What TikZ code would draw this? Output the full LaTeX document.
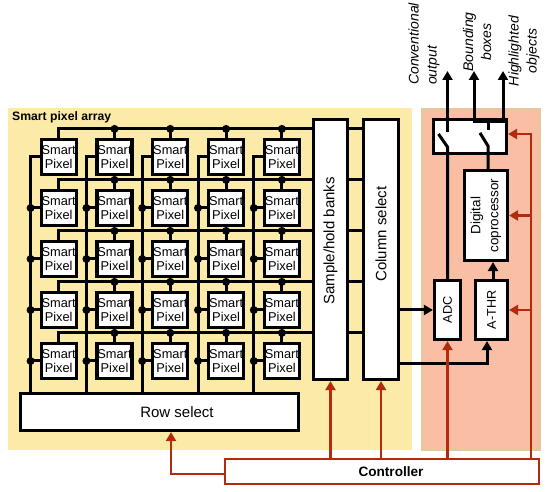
\documentclass[tikz,border=0pt]{standalone}
\usepackage{fontspec}
\setmainfont{Liberation Sans}
\usetikzlibrary{arrows.meta, positioning}

\definecolor{arrayyellow}{RGB}{252,234,168}
\definecolor{procpink}{RGB}{249,190,164}
\definecolor{procedge}{RGB}{234,198,158}
\definecolor{ctrlred}{RGB}{180,42,12}

\tikzset{
  pixel/.style={draw, line width=3.2pt, fill=white, minimum width=35pt, minimum height=35pt,
    inner sep=0pt, align=center, font=\fontsize{12.8}{14}\selectfont},
  block/.style={draw, line width=3.2pt, fill=white, inner sep=0pt},
  wire/.style={line width=3pt},
  arr/.style={-{Triangle[width=10pt,length=9pt]}},
  twoarr/.style={{Triangle[width=10pt,length=9pt]}-{Triangle[width=10pt,length=9pt]}},
  ctrl/.style={draw=ctrlred, line width=2.4pt, -{Triangle[width=10pt,length=9pt]}},
  bigtext/.style={inner sep=0pt, font=\fontsize{15}{18}\selectfont},
  smalltext/.style={inner sep=0pt, font=\fontsize{12.6}{15}\selectfont},
  dctext/.style={inner sep=0pt, align=center, font=\fontsize{13.5}{18}\selectfont},
  outtext/.style={inner sep=0pt, font=\itshape\fontsize{14}{18}\selectfont},
  boldtext/.style={inner sep=0pt, font=\bfseries\fontsize{12.2}{14}\selectfont}
}

\begin{document}
\begin{tikzpicture}[x=1pt, y=-1pt]
    \useasboundingbox (0,0) rectangle (550,492);

    % Background panels
    \fill[arrayyellow] (8,108) rectangle (412,450);
    \filldraw[fill=procpink, draw=procedge, line width=3pt] (422.5,109.5) rectangle (539.5,449.5);
    \node[boldtext, anchor=base west] (array-lbl) at (12,121) {Smart pixel array};

    % Smart pixel grid
    \foreach \r in {1,...,5}
      \foreach \c in {1,...,5}
        \node[pixel] (px-\r-\c) at ({58.7+55.8*(\c-1)}, {157+51*(\r-1)}) {Smart\\Pixel};

    % Readout blocks
    \node[block, minimum width=34pt, minimum height=260pt] (sh) at (330.5,249.5) {};
    \node[bigtext, rotate=90] (sh-lbl) at (330.5,241) {Sample/hold banks};
    \node[block, minimum width=35pt, minimum height=260pt] (cs) at (381,249.5) {};
    \node[bigtext, rotate=90] (cs-lbl) at (381,234) {Column select};
    \node[block, minimum width=278pt, minimum height=37pt] (rs) at (159.5,412) {};
    \node[bigtext] (rs-lbl) at (177,412) {Row select};

    % Processing blocks
    \node[block, minimum width=73pt, minimum height=34pt] (sw) at (470,136.5) {};
    \node[block, minimum width=26pt, minimum height=59pt] (adc) at (447.5,310) {};
    \node[smalltext, rotate=90] (adc-lbl) at (adc.center) {ADC};
    \node[block, minimum width=32pt, minimum height=59pt] (athr) at (491.5,310) {};
    \node[smalltext, rotate=90] (athr-lbl) at (athr.center) {A-THR};
    \node[block, minimum width=43pt, minimum height=90pt] (dc) at (486,215.5) {};
    \node[dctext, rotate=90] (dc-lbl) at (dc.center) {Digital\\coprocessor};

    % Controller
    \node[draw=ctrlred, line width=2.4pt, fill=white, minimum width=314pt, minimum height=25pt, inner sep=0pt] (ctl) at (382,471.5) {};
    \node[boldtext, font=\bfseries\fontsize{13.6}{16}\selectfont] (ctl-lbl) at (391,471.5) {Controller};

    % Row lines to the sample/hold banks
    \foreach \r in {1,...,5} {
      \draw[wire] (px-\r-1.north) -- ++(0,-9) coordinate (rl-\r) -- (rl-\r -| sh.west);
      \draw[wire] (rl-\r -| sh.east) -- (rl-\r -| cs.west);
      \foreach \c in {2,...,5} {
        \draw[wire] (px-\r-\c.north) -- (px-\r-\c.north |- rl-\r);
        \fill (px-\r-\c.north |- rl-\r) circle (4pt);
      }
    }

    % Column lines to the row select
    \foreach \c in {1,...,5} {
      \draw[wire] (px-1-\c.west) -- ++(-9,0) coordinate (cl-\c) -- (cl-\c |- rs.north);
      \foreach \r in {2,...,5} {
        \draw[wire] (px-\r-\c.west) -- (px-\r-\c.west -| cl-\c);
        \fill (px-\r-\c.west -| cl-\c) circle (4pt);
      }
    }

    % Readout path
    \draw[wire, arr] (cs.east |- adc.west) -- (adc.west);
    \draw[wire, arr] (cs.east |- 0,364) -| ([xshift=-4.5pt]athr.south);
    \draw[wire, arr] ([xshift=1.5pt]athr.north) -- ([xshift=1.5pt]athr.north |- dc.south);

    % Switches and outputs
    \coordinate (out) at (0,71);
    \draw[wire] (adc.north) -- (adc.north |- 0,147) -- ++(-9,-13);
    \draw[wire, arr] (adc.north |- 0,132) -- (adc.north |- out);
    \draw[wire] ([xshift=2pt]dc.north) -- ++(0,-23) -- ++(-8,-13);
    \draw[wire] ([xshift=2pt]dc.north |- 0,130) -- ++(0,-8) coordinate (fork);
    \coordinate (bb-out) at (474,71);
    \coordinate (ho-out) at (503,71);
    \draw[wire, twoarr] (bb-out) |- (fork) -| (ho-out);

    % Output labels
    \node[outtext, rotate=90, anchor=west, align=left] (conv-lbl) at (424,85) {Conventional\\output};
    \node[outtext, rotate=90, align=center] (bb-lbl) at (477,42) {Bounding\\boxes};
    \node[outtext, rotate=90, align=center] (ho-lbl) at (524,51) {Highlighted\\objects};

    % Control lines
    \draw[ctrl] ([yshift=-2.5pt]ctl.west) -| ([xshift=11.5pt]rs.south);
    \draw[ctrl] (sh.south |- ctl.north) -- (sh.south);
    \draw[ctrl] (cs.south |- ctl.north) -- (cs.south);
    \draw[ctrl] (adc.south |- ctl.north) -- (adc.south);
    \coordinate (bus) at (531,134);
    \draw[ctrl] (bus |- ctl.north) -- (bus) -- (sw.east |- bus);
    \draw[ctrl] (bus |- dc.east) -- (dc.east);
    \draw[ctrl] (bus |- athr.east) -- (athr.east);
\end{tikzpicture}
\end{document}
